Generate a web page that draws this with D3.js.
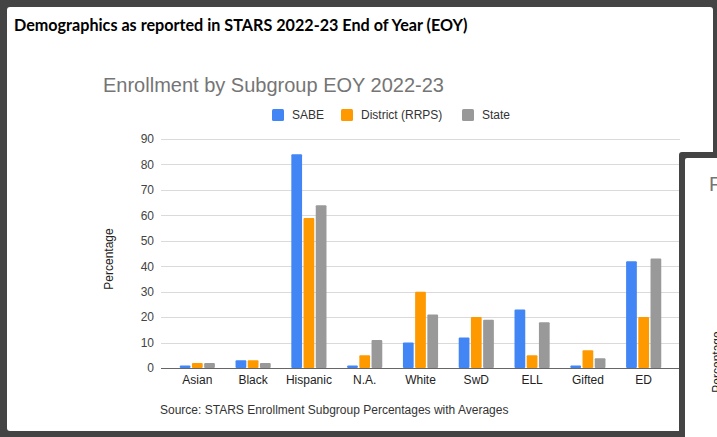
<!DOCTYPE html>
<html>
<head>
<meta charset="utf-8">
<script src="https://cdn.jsdelivr.net/npm/d3@7"></script>
<style>
  body { margin: 0; background: #fff; }
  svg text { font-family: Arial, "Liberation Sans", sans-serif; }
</style>
</head>
<body>
<svg id="chart" width="717" height="437"></svg>
<script>
// values
var categories = ["Asian", "Black", "Hispanic", "N.A.", "White", "SwD", "ELL", "Gifted", "ED"];
var seriesNames = ["SABE", "District (RRPS)", "State"];
var sabe = [1, 3, 84, 1, 10, 12, 23, 1, 42];
var district = [2, 3, 59, 5, 30, 20, 5, 7, 20];
var state = [2, 2, 64, 11, 21, 19, 18, 3.8, 43];
var yTicks = [0, 10, 20, 30, 40, 50, 60, 70, 80, 90];
var colors = ["#4285F4", "#FF9900", "#999999"];

var svg = d3.select("#chart");
var W = 717, H = 437;

// screenshot frame (dark border around the slide)
svg.append("rect").attr("width", W).attr("height", H).attr("fill", "#444");
svg.append("rect")
    .attr("x", 7).attr("y", 7)
    .attr("width", 706).attr("height", 424)
    .attr("rx", 3)
    .attr("fill", "#fff");

// header
var header = svg.append("text")
    .attr("x", 14).attr("y", 31)
    .style("font-family", "Lato, 'Open Sans', sans-serif")
    .style("font-weight", "bold")
    .style("font-size", "17px")
    .attr("fill", "#000")
    .text("Demographics as reported in STARS 2022-23 End of Year (EOY)");
var hw = header.node().getComputedTextLength();
header.style("font-size", (17 * 454 / hw) + "px");

// chart title
svg.append("text")
    .attr("x", 103).attr("y", 92)
    .style("font-size", "20px")
    .attr("fill", "#757575")
    .text("Enrollment by Subgroup EOY 2022-23");

// legend
var legendX = [272, 341, 462];
var legend = svg.append("g");
seriesNames.forEach(function(name, i) {
  legend.append("rect")
      .attr("x", legendX[i]).attr("y", 109)
      .attr("width", 12).attr("height", 12)
      .attr("rx", 1.5)
      .attr("fill", colors[i]);
  legend.append("text")
      .attr("x", legendX[i] + 20).attr("y", 119)
      .style("font-size", "12px")
      .attr("fill", "#333")
      .text(name);
});

// scales
var plotLeft = 161, plotRight = 680;
var y = d3.scaleLinear().domain([0, 90]).range([368, 139]);

var x0 = d3.scaleBand()
    .domain(categories)
    .range([plotLeft, plotRight])
    .paddingInner(0.37)
    .paddingOuter(0.336);

var x1 = d3.scaleBand()
    .domain(seriesNames)
    .range([0, x0.bandwidth()])
    .paddingInner(0.12);

// gridlines
svg.append("g")
    .selectAll("line")
    .data(yTicks.slice(1))
    .enter().append("line")
      .attr("x1", plotLeft).attr("x2", plotRight)
      .attr("y1", function(d) { return Math.round(y(d)) + 0.5; })
      .attr("y2", function(d) { return Math.round(y(d)) + 0.5; })
      .attr("stroke", "#dadada")
      .attr("stroke-width", 1);

// y axis labels
var yAxis = svg.append("g")
    .attr("transform", "translate(" + (plotLeft - 7) + ",0)")
    .call(d3.axisLeft(y).tickValues(yTicks).tickSize(0).tickPadding(0));
yAxis.select(".domain").remove();
yAxis.selectAll("text")
    .style("font-size", "12px")
    .style("font-family", "Arial, 'Liberation Sans', sans-serif")
    .attr("fill", "#444");

svg.append("text")
    .attr("transform", "translate(113,259) rotate(-90)")
    .attr("text-anchor", "middle")
    .style("font-size", "12px")
    .attr("fill", "#222")
    .text("Percentage");

// bars
var rows = categories.map(function(c, i) {
  return { cat: c, vals: [sabe[i], district[i], state[i]] };
});

var groups = svg.append("g")
    .selectAll("g")
    .data(rows)
    .enter().append("g")
      .attr("transform", function(d) { return "translate(" + x0(d.cat) + ",0)"; });

groups.selectAll("rect")
    .data(function(d) {
      return d.vals.map(function(v, j) { return { s: seriesNames[j], v: v, j: j }; });
    })
    .enter().append("rect")
      .attr("x", function(d) { return x1(d.s); })
      .attr("y", function(d) { return y(d.v); })
      .attr("width", x1.bandwidth())
      .attr("height", function(d) { return y(0) - y(d.v); })
      .attr("rx", 1)
      .attr("fill", function(d) { return colors[d.j]; });

// baseline
svg.append("line")
    .attr("x1", plotLeft).attr("x2", plotRight)
    .attr("y1", Math.round(y(0)) + 0.5).attr("y2", Math.round(y(0)) + 0.5)
    .attr("stroke", "#666");

// x axis labels
var xAxis = svg.append("g")
    .attr("transform", "translate(0," + (y(0) + 7) + ")")
    .call(d3.axisBottom(x0).tickSize(0).tickPadding(0));
xAxis.select(".domain").remove();
xAxis.selectAll("text")
    .style("font-size", "12px")
    .style("font-family", "Arial, 'Liberation Sans', sans-serif")
    .attr("fill", "#222");

// source note
svg.append("text")
    .attr("x", 160).attr("y", 414)
    .style("font-size", "12px")
    .attr("fill", "#333")
    .text("Source: STARS Enrollment Subgroup Percentages with Averages");

// second slide peeking in on the right
svg.append("rect")
    .attr("x", 679).attr("y", 152)
    .attr("width", 50).attr("height", 300)
    .attr("rx", 3)
    .attr("fill", "#444");
svg.append("rect")
    .attr("x", 685).attr("y", 158)
    .attr("width", 50).attr("height", 300)
    .attr("rx", 2)
    .attr("fill", "#fff");
svg.append("text")
    .attr("x", 709).attr("y", 191)
    .style("font-size", "20px")
    .attr("fill", "#757575")
    .text("F");
svg.append("text")
    .attr("transform", "translate(721,362) rotate(-90)")
    .attr("text-anchor", "middle")
    .style("font-size", "12px")
    .attr("fill", "#222")
    .text("Percentage");
</script>
</body>
</html>
